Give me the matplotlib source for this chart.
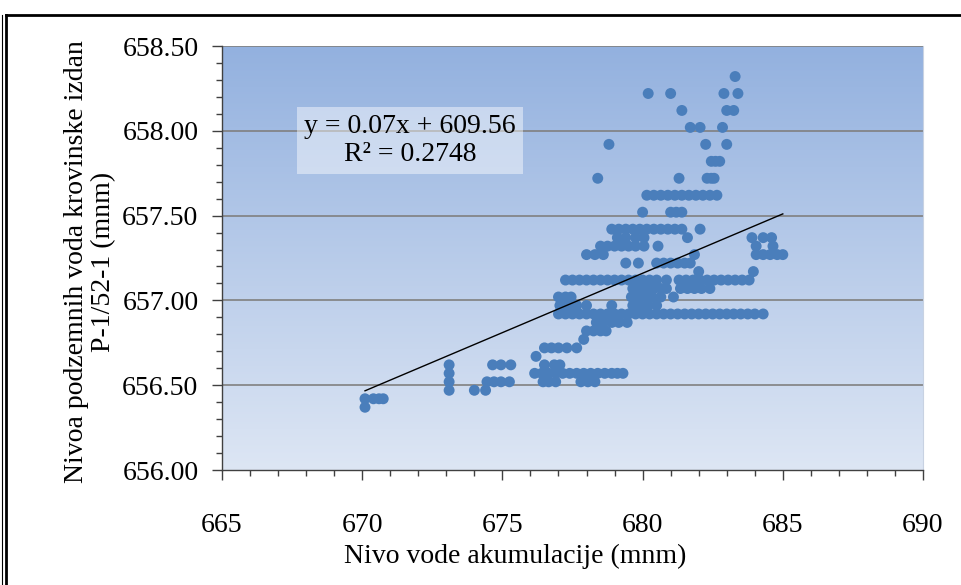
import numpy as np
import matplotlib
matplotlib.use("Agg")
from matplotlib import pyplot as plt
from matplotlib.colors import LinearSegmentedColormap
from matplotlib.ticker import MultipleLocator, FormatStrFormatter
from matplotlib.lines import Line2D

# Data: one list of x values per y level
ROW_LEVELS = [658.32, 658.22, 658.12, 658.02, 657.92, 657.82, 657.72, 657.62,
              657.52, 657.42, 657.37, 657.32, 657.27, 657.22, 657.17, 657.12,
              657.07, 657.02, 656.97, 656.92, 656.87, 656.82, 656.77, 656.72,
              656.67, 656.62, 656.57, 656.52, 656.47, 656.42, 656.37]
ROW_X = [
    [683.3],
    [680.2, 681.0, 682.9, 683.4],
    [681.4, 683.0, 683.25],
    [681.7, 682.05, 682.85],
    [678.8, 682.25, 683.0],
    [682.45, 682.6, 682.75],
    [678.4, 681.3, 682.3, 682.45, 682.55],
    [680.15, 680.4, 680.65, 680.9, 681.15, 681.4, 681.65, 681.9, 682.15, 682.4, 682.65],
    [680.0, 681.0, 681.2, 681.4],
    [678.9, 679.15, 679.4, 679.65, 679.9, 680.15, 680.4, 680.65, 680.9, 681.15, 681.4, 682.05],
    [679.1, 679.4, 679.75, 680.05, 681.6, 683.9, 684.3, 684.6],
    [678.5, 678.75, 679.0, 679.25, 679.5, 679.75, 680.05, 680.55, 684.05, 684.65],
    [678.0, 678.3, 678.6, 681.85, 684.05, 684.3, 684.55, 684.8, 685.0],
    [679.4, 679.85, 680.5, 680.75, 681.0, 681.25, 681.5, 681.7],
    [682.0, 683.95],
    [677.25, 677.5, 677.75, 678.0, 678.25, 678.5, 678.75, 679.0, 679.25, 679.5,
     679.75, 680.0, 680.25, 680.5, 680.85, 681.3, 681.55, 681.8, 682.05, 682.3,
     682.55, 682.8, 683.05, 683.3, 683.55, 683.8],
    [679.65, 679.9, 680.15, 680.4, 680.65, 680.85, 681.35, 681.6, 681.85, 682.1, 682.4],
    [677.0, 677.25, 677.45, 679.6, 679.85, 680.1, 680.35, 680.65, 681.1],
    [677.05, 677.35, 677.65, 678.0, 678.9, 679.65, 679.9, 680.2, 680.5],
    [677.0, 677.25, 677.5, 677.75, 678.0, 678.25, 678.5, 678.75, 679.0, 679.25,
     679.5, 679.75, 680.0, 680.25, 680.5, 680.75, 681.0, 681.25, 681.5, 681.75,
     682.0, 682.25, 682.5, 682.75, 683.0, 683.25, 683.5, 683.75, 684.0, 684.3],
    [678.35, 678.6, 678.9, 679.15, 679.45],
    [678.0, 678.25, 678.5, 678.7],
    [677.9],
    [676.5, 676.75, 677.0, 677.3, 677.65],
    [676.2],
    [673.1, 674.65, 674.95, 675.3, 676.5, 676.85, 677.05],
    [673.1, 676.15, 676.4, 676.65, 676.9, 677.15, 677.4, 677.65, 677.9, 678.15,
     678.4, 678.65, 678.9, 679.1, 679.3],
    [673.1, 674.45, 674.7, 674.95, 675.25, 676.45, 676.65, 676.9, 677.8, 678.05, 678.3],
    [673.1, 674.0, 674.4],
    [670.1, 670.4, 670.6, 670.75],
    [670.1],
]

SLOPE = 0.07
INTERCEPT = 609.56
EQ_TEXT = "y = 0.07x + 609.56\nR\u00b2 = 0.2748"

X_LABEL = "Nivo vode akumulacije (mnm)"
Y_LABEL = "Nivoa podzemnih voda krovinske izdan\nP-1/52-1 (mnm)"

xs = np.concatenate([np.array(r) for r in ROW_X])
ys = np.concatenate([np.full(len(r), lv) for r, lv in zip(ROW_X, ROW_LEVELS)])

plt.rcParams["font.family"] = ["Liberation Serif", "DejaVu Serif"]

W, H = 961, 585
fig = plt.figure(figsize=(W / 100, H / 100), dpi=100)
ax = fig.add_axes([222 / W, (H - 470) / H, 701 / W, 424 / H])

ax.set_xlim(665, 690)
ax.set_ylim(656.0, 658.5)

# vertical gradient background of the plot area
cmap = LinearSegmentedColormap.from_list("bg", ["#dde6f4", "#93b1df"])
grad = np.linspace(0, 1, 256).reshape(-1, 1)
ax.imshow(grad, cmap=cmap, aspect="auto", origin="lower",
          extent=[665, 690, 656.0, 658.5], zorder=0)

for yv in [656.5, 657.0, 657.5, 658.0, 658.5]:
    ax.axhline(yv, color="#808080", lw=1.2, zorder=1)

ax.scatter(xs, ys, s=62, color="#4a7ebb", edgecolors="none", zorder=3)

# linear trendline over the data range
tx = np.array([xs.min(), xs.max()])
ax.plot(tx, SLOPE * tx + INTERCEPT, color="black", lw=1.0, zorder=4)

ax.xaxis.set_major_locator(MultipleLocator(5))
ax.xaxis.set_minor_locator(MultipleLocator(1))
ax.yaxis.set_major_locator(MultipleLocator(0.5))
ax.yaxis.set_minor_locator(MultipleLocator(0.1))
ax.yaxis.set_major_formatter(FormatStrFormatter("%.2f"))

ax.tick_params(axis="x", which="major", length=7, width=1, pad=24, labelsize=20,
               color="#404040")
ax.tick_params(axis="x", which="minor", length=4, width=1, color="#404040")
ax.tick_params(axis="y", which="major", length=7, width=1, pad=10, labelsize=20,
               color="#404040")
ax.tick_params(axis="y", which="minor", length=4, width=1, color="#404040")

for side in ["left", "bottom"]:
    ax.spines[side].set_color("#404040")
    ax.spines[side].set_linewidth(1.0)
ax.spines["top"].set_visible(False)
ax.spines["right"].set_color("#c8d2e2")
ax.spines["right"].set_linewidth(0.8)

ax.text(0.268, 0.777, EQ_TEXT, transform=ax.transAxes, ha="center", va="center",
        fontsize=20, linespacing=1.15, zorder=5,
        bbox=dict(boxstyle="square,pad=0.25", facecolor="white", alpha=0.45,
                  edgecolor="none"))

fig.text(515 / W, (H - 556) / H, X_LABEL, ha="center", va="center", fontsize=20)
fig.text(90 / W, (H - 262) / H, Y_LABEL, ha="center", va="center", fontsize=20,
         rotation=90, linespacing=1.15)

# outer frame of the picture
fig.add_artist(Line2D([6 / W, 1.0], [(H - 15) / H] * 2, color="black", lw=2.0))
fig.add_artist(Line2D([6 / W] * 2, [0, (H - 15) / H], color="black", lw=2.0))
fig.add_artist(Line2D([2 / W] * 2, [0, (H - 15) / H], color="black", lw=0.8))

fig.savefig("out.png", dpi=100)
